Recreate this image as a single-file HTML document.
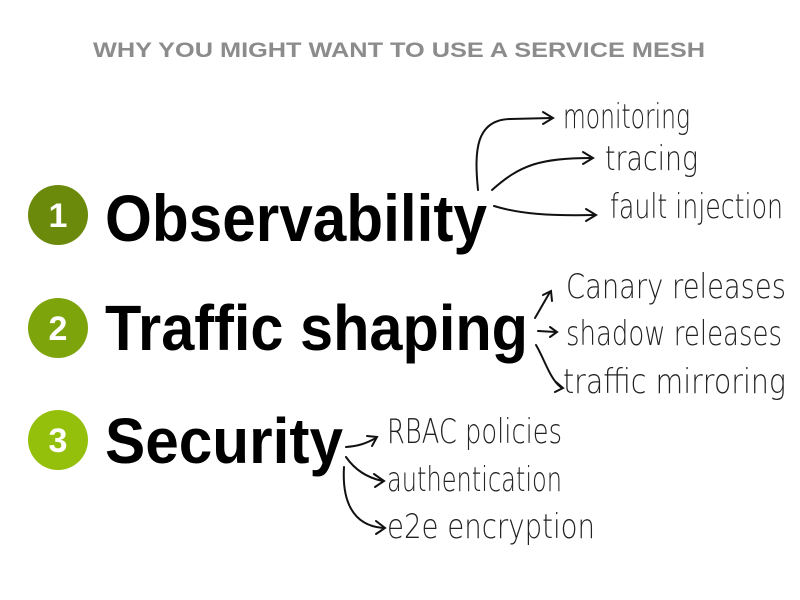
<!DOCTYPE html>
<html><head><meta charset="utf-8"><style>
html,body{margin:0;padding:0;background:#fff;}
svg{display:block}
.h{font-family:"DejaVu Sans","Liberation Sans",sans-serif;font-weight:200;font-size:34px;fill:#222}
.b{font-family:"Liberation Sans",sans-serif;font-weight:bold;fill:#000}
</style></head><body>
<svg width="800" height="600" viewBox="0 0 800 600" xmlns="http://www.w3.org/2000/svg">
<text x="399" y="57" text-anchor="middle" font-family="Liberation Sans, sans-serif" font-weight="bold" font-size="21" fill="#8c8c8c" textLength="612" lengthAdjust="spacingAndGlyphs">WHY YOU MIGHT WANT TO USE A SERVICE MESH</text>

<circle cx="58" cy="215" r="30" fill="#6b8a0b"/>
<circle cx="58" cy="328" r="30" fill="#7ea40c"/>
<circle cx="58" cy="440" r="30" fill="#94c00c"/>
<text x="58" y="227" text-anchor="middle" class="b" font-size="34" fill="#fff" style="fill:#fff">1</text>
<text x="58" y="340" text-anchor="middle" class="b" font-size="34" style="fill:#fff">2</text>
<text x="58" y="452" text-anchor="middle" class="b" font-size="34" style="fill:#fff">3</text>

<text x="105" y="241" class="b" font-size="66" textLength="382" lengthAdjust="spacingAndGlyphs">Observability</text>
<text x="105" y="350" class="b" font-size="64" textLength="423" lengthAdjust="spacingAndGlyphs">Traffic shaping</text>
<text x="105" y="463" class="b" font-size="64" textLength="238" lengthAdjust="spacingAndGlyphs">Security</text>

<g fill="none" stroke="#111" stroke-width="2" stroke-linecap="round">
<path d="M478 190 C474 150 476 120 510 119 L552 118"/><path d="M543 112 L553 118 L543 124"/>
<path d="M492 190 C520 165 540 158 592 158"/><path d="M583 152 L593 158 L583 164"/>
<path d="M494 206 C520 214 550 216 595 215"/><path d="M586 209 L596 215 L586 221"/>
<path d="M535 318 L550 292"/><path d="M543 295 L551 291 L552 301"/>
<path d="M538 331 L556 332"/><path d="M550 327 L557 332 L550 337"/>
<path d="M536 345 C545 360 550 380 562 388"/><path d="M556 382 L563 388 L555 392"/>
<path d="M346 447 C358 446 365 444 376 438"/><path d="M367 436 L377 437 L372 446"/>
<path d="M346 457 C355 470 368 478 383 481"/><path d="M374 474 L384 481 L375 487"/>
<path d="M344 467 C342 500 352 526 384 528"/><path d="M376 521 L385 528 L376 534"/>
</g>

<text x="563" y="128" class="h" textLength="127" lengthAdjust="spacingAndGlyphs">monitoring</text>
<text x="605" y="170" class="h" textLength="93" lengthAdjust="spacingAndGlyphs">tracing</text>
<text x="610" y="218" class="h" textLength="173" lengthAdjust="spacingAndGlyphs">fault injection</text>
<text x="566" y="298" class="h" textLength="220" lengthAdjust="spacingAndGlyphs">Canary releases</text>
<text x="566" y="345" class="h" textLength="216" lengthAdjust="spacingAndGlyphs">shadow releases</text>
<text x="563" y="393" class="h" textLength="223" lengthAdjust="spacingAndGlyphs">traffic mirroring</text>
<text x="387" y="443" class="h" textLength="175" lengthAdjust="spacingAndGlyphs">RBAC policies</text>
<text x="387" y="491" class="h" textLength="175" lengthAdjust="spacingAndGlyphs">authentication</text>
<text x="387" y="538" class="h" textLength="208" lengthAdjust="spacingAndGlyphs">e2e encryption</text>
</svg>
</body></html>
